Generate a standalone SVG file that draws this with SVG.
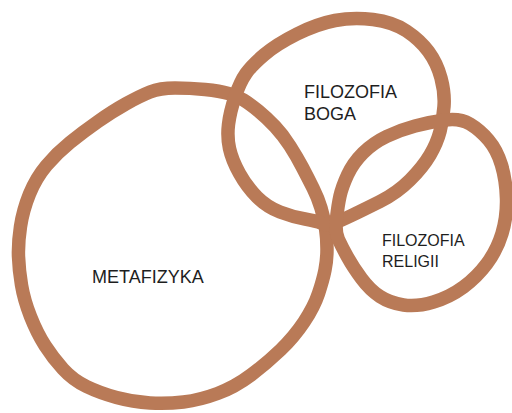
<svg xmlns="http://www.w3.org/2000/svg" width="512" height="413" viewBox="0 0 512 413">
<style>
.ring{fill:none;stroke:#b97a57;stroke-width:13.5;stroke-linejoin:round;stroke-linecap:round}
.lbl{font-family:"Liberation Sans",Arial,sans-serif;fill:#1e1e1e}
</style>
<rect width="512" height="413" fill="#ffffff"/>
<g id="metafizyka">
<path class="ring" d="M150,92 Q160,88 175,88 Q190,88 205,89.5 Q220,91 228.5,93.5 Q237,96 243.5,100 Q250,104 258.5,111 Q267,118 275,126.5 Q283,135 290,146 Q297,157 302.5,167.5 Q308,178 313,188 Q318,198 321,208 Q324,218 325.5,228 Q327,238 327,249 Q327,260 325,270 Q323,280 318.5,293.5 Q314,307 304,322 Q294,337 280.5,350 Q267,363 251,375 Q235,387 217.5,393.5 Q200,400 183.5,402 Q167,404 150,403 Q133,402 116.5,397.5 Q100,393 86.5,386.5 Q73,380 63,369 Q53,358 45,345.5 Q37,333 30.5,316.5 Q24,300 21.5,285 Q19,270 18.5,256.5 Q18,243 20.5,226.5 Q23,210 29.5,194 Q36,178 46.5,165.5 Q57,153 70,142.5 Q83,132 98,121.5 Q113,111 126.5,103.5 Q140,96 150,92 Z"/>
<text class="lbl" x="92" y="283" font-size="18">METAFIZYKA</text>
</g>
<g id="filozofia-boga">
<path class="ring" d="M246,73.5 Q252,65 264.5,54.5 Q277,44 297,34 Q317,24 335,20.5 Q353,17 373,19.5 Q393,22 406.5,31 Q420,40 428.5,51.5 Q437,63 441,78 Q445,93 444,106.5 Q443,120 440,131.5 Q437,143 430,155 Q423,167 410,180 Q397,193 380,201.5 Q363,210 351.5,215.5 Q340,221 333.5,223.5 Q327,226 322,223.5 Q317,221 305,219 Q293,217 280,212 Q267,207 257,197 Q247,187 239.5,173.5 Q232,160 229.5,148.5 Q227,137 228.5,124.5 Q230,112 235,97 Q240,82 246,73.5 Z"/>
<text class="lbl" x="304" y="97.5" font-size="18">FILOZOFIA</text>
<text class="lbl" x="304" y="120" font-size="18">BOGA</text>
</g>
<g id="filozofia-religii">
<path class="ring" d="M336.5,218.5 Q338,205 340,196 Q342,187 347.5,175 Q353,163 363,153 Q373,143 386.5,136.5 Q400,130 415,126 Q430,122 445,120 Q460,118 470,124 Q480,130 488.5,140 Q497,150 501.5,165 Q506,180 506.5,198.5 Q507,217 502,233.5 Q497,250 487,263.5 Q477,277 463.5,287 Q450,297 433.5,302 Q417,307 403.5,305 Q390,303 380,296.5 Q370,290 361.5,278.5 Q353,267 347.5,257 Q342,247 338.5,239.5 Q335,232 336.5,218.5 Z"/>
<text class="lbl" x="382" y="245.7" font-size="16">FILOZOFIA</text>
<text class="lbl" x="382" y="266.7" font-size="16">RELIGII</text>
</g>
<g id="connectors"/>
</svg>
